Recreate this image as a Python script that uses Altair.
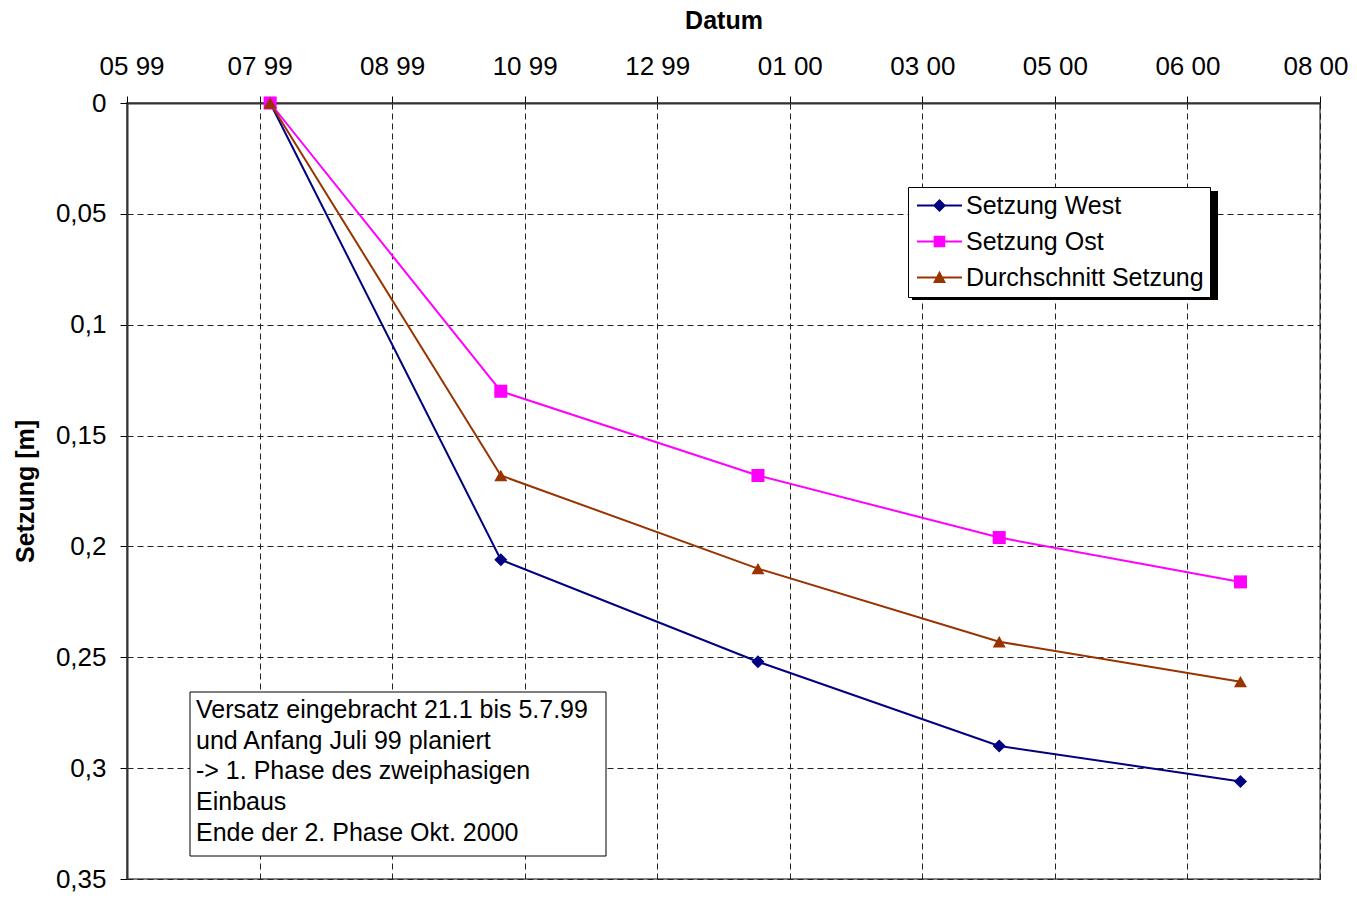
import altair as alt
import pandas as pd

# ---- data ----
series_names = ["Setzung West", "Setzung Ost", "Durchschnitt Setzung"]
dates = ["1999-07-13", "1999-10-08", "2000-01-13", "2000-04-13", "2000-07-13"]
west = [0.0, 0.206, 0.252, 0.290, 0.306]
ost = [0.0, 0.130, 0.168, 0.196, 0.216]
avg = [0.0, 0.168, 0.210, 0.243, 0.261]

x_tick_dates = ["1999-05-20", "1999-07-09", "1999-08-28", "1999-10-17", "1999-12-06",
                "2000-01-25", "2000-03-15", "2000-05-04", "2000-06-23", "2000-08-12"]
y_ticks = [0, 0.05, 0.1, 0.15, 0.2, 0.25, 0.3, 0.35]
colors = ["#000080", "#FF00FF", "#993300"]
shapes = ["diamond", "square", "triangle-up"]

note_text = ("Versatz eingebracht 21.1 bis 5.7.99\nund Anfang Juli 99 planiert\n"
             "-> 1. Phase des zweiphasigen\nEinbaus\nEnde der 2. Phase Okt. 2000")

FONT = "Liberation Sans"


def ms(d):
    return int(pd.Timestamp(d, tz="UTC").value // 10**6)


rows = []
for name, vals in zip(series_names, [west, ost, avg]):
    for d, v in zip(dates, vals):
        rows.append({"Datum": ms(d), "Setzung": v, "Reihe": name})
df = pd.DataFrame(rows)

x_ticks_ms = [ms(d) for d in x_tick_dates]

# legend symbols: short line (thin filled bar) with the series marker on it
BAR = "M-2.25,-0.1L2.25,-0.1L2.25,0.1L-2.25,0.1Z"
legend_paths = [
    BAR + "M-0.65,0L0,-0.65L0.65,0L0,0.65Z",
    BAR + "M-0.58,-0.58L0.58,-0.58L0.58,0.58L-0.58,0.58Z",
    BAR + "M-0.65,0.54L0,-0.68L0.65,0.54Z",
]

legend = alt.Legend(
    title=None, orient="none", legendX=781, legendY=84, direction="vertical",
    fillColor="white", padding=6,
    labelFont=FONT, labelFontSize=25, labelColor="black", labelOffset=14,
    symbolSize=400, symbolOffset=13, labelLimit=400, symbolOpacity=1,
    symbolStrokeWidth=0,
)

x_enc = alt.X(
    "Datum:T",
    scale=alt.Scale(type="utc", domain=[x_ticks_ms[0], x_ticks_ms[-1]]),
    axis=alt.Axis(orient="top", values=x_ticks_ms,
                  labelExpr="utcFormat(datum.value, '%m %y')", labelFlush=True,
                  labelFlushOffset=28, labelOverlap=False, labelBound=False,
                  title="Datum", labelPadding=17, titlePadding=20),
)
y_enc = alt.Y(
    "Setzung:Q",
    scale=alt.Scale(domain=[0, 0.35], reverse=True, nice=False, zero=False),
    axis=alt.Axis(values=y_ticks, title="Setzung [m]", labelPadding=14, titlePadding=17,
                  labelFlush=False, labelOverlap=False,
                  labelExpr="replace(format(datum.value, '~g'), '.', ',')"),
)

base = alt.Chart(df)
line_layers = []
point_layers = []
for name, shp, col in zip(series_names, shapes, colors):
    sub = base.transform_filter(alt.datum.Reihe == name)
    line_layers.append(sub.mark_line(strokeWidth=2, color=col).encode(x=x_enc, y=y_enc))
    point_layers.append(
        sub.mark_point(filled=True, size=170, opacity=1, shape=shp, color=col)
        .encode(x=x_enc, y=y_enc)
    )

legend_layer = base.mark_point(filled=True, opacity=0, size=1).encode(
    x=x_enc, y=y_enc,
    color=alt.Color("Reihe:N", scale=alt.Scale(domain=series_names, range=colors),
                    legend=legend),
    shape=alt.Shape("Reihe:N", scale=alt.Scale(domain=series_names, range=legend_paths),
                    legend=legend),
)

one = alt.Chart(pd.DataFrame({"k": [0]}))
shadow = one.mark_rect(color="black").encode(
    x=alt.value(785), x2=alt.value(1091), y=alt.value(88), y2=alt.value(197))
note_box = one.mark_rect(fill="white", stroke="black", strokeWidth=1).encode(
    x=alt.value(63), x2=alt.value(479), y=alt.value(589), y2=alt.value(753))
note = one.mark_text(align="left", baseline="middle", font=FONT, fontSize=25,
                     lineHeight=30.7, color="black", lineBreak="\n").encode(
    x=alt.value(69), y=alt.value(607), text=alt.value(note_text))

chart = alt.layer(shadow, note_box, *line_layers, *point_layers, legend_layer, note).properties(
    width=1193, height=776,
    autosize=alt.AutoSizeParams(type="none"),
    padding={"left": 119, "top": 95, "right": 29, "bottom": 18},
).configure_view(stroke="#808080", strokeWidth=2).configure_axis(
    labelFont=FONT, labelFontSize=26, labelColor="black",
    titleFont=FONT, titleFontSize=25, titleFontWeight="bold", titleColor="black",
    domainColor="#333333", domainWidth=2, tickColor="black", tickSize=7, tickWidth=1,
    grid=True, gridColor="#222222", gridDash=[6, 4], gridWidth=1, gridOpacity=1,
).configure_legend(strokeColor="black", strokeWidth=1, rowPadding=10)

chart.save("out.html", embed_options={"renderer": "svg", "actions": False})
